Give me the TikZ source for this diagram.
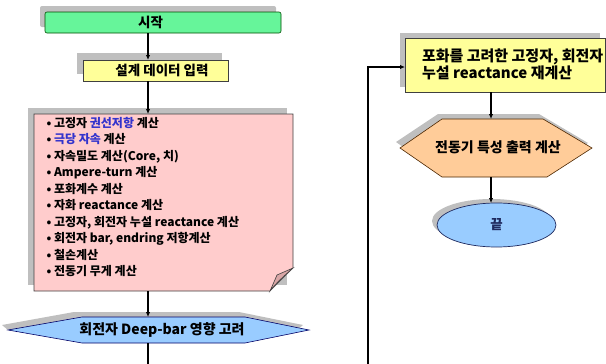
\documentclass[tikz,border=0pt]{standalone}
\usepackage{fontspec}
\setmainfont{Noto Sans CJK KR}
\usetikzlibrary{arrows.meta,shapes.geometric,shapes.misc}
\definecolor{shc}{HTML}{BFBFBF}
\definecolor{greenc}{HTML}{66F59A}
\definecolor{yellowc}{HTML}{FFFF99}
\definecolor{pinkc}{HTML}{FFCCCC}
\definecolor{foldc}{HTML}{D9A6A6}
\definecolor{bluec}{HTML}{99CCFF}
\definecolor{orangec}{HTML}{FFCC99}
\definecolor{txtblue}{HTML}{3333CC}
\definecolor{navy}{HTML}{1F2A5F}
\tikzset{
  shadowfill/.style={fill=shc},
  outline/.style={draw=black!75,line width=0.6pt},
  conn/.style={line width=1.1pt,-{Latex[length=5pt,width=4.5pt]}},
  plainconn/.style={line width=1.1pt},
  lbl/.style={font=\bfseries\fontsize{13.5}{15}\selectfont,inner sep=0pt},
  box/.style={inner sep=0pt,outer sep=0pt}
}
\begin{document}
\begin{tikzpicture}[x=1pt,y=-1pt]
\useasboundingbox (0,0) rectangle (606,364);
\coordinate (axis) at (148,0);
\coordinate (raxis) at (491,0);
% start
\fill[shadowfill,rounded corners=2pt] (40,6) rectangle (276,27);
\node[box,draw=black!70!green,line width=0.6pt,fill=greenc,rounded corners=2pt,minimum width=236pt,minimum height=21pt] (start) at (163,22.5) {};
\node[lbl] (starttext) at (150.5,22.5) {시작};
% input
\fill[shadowfill] (77,53) rectangle (222,74);
\node[box,chamfered rectangle,chamfered rectangle corners=north west,chamfered rectangle xsep=3pt,chamfered rectangle ysep=3pt,outline,fill=yellowc,minimum width=145pt,minimum height=21pt] (input) at (155.5,70.5) {};
\node[lbl] (inputtext) at (162,70.5) {설계 데이터 입력};
% calc box
\fill[shadowfill] (28,108) rectangle (287,285);
\node[box,minimum width=259pt,minimum height=177pt] (calc) at (163.5,202.5) {};
\filldraw[outline,fill=pinkc] (calc.north west) -- (calc.north east) -- ([yshift=23pt]calc.south east) -- ([xshift=-23pt]calc.south east) -- (calc.south west) -- cycle;
\filldraw[outline,fill=foldc] ([xshift=-23pt]calc.south east) .. controls (274,282) .. (277,275) -- ([yshift=23pt]calc.south east) .. controls (284,276) and (276,283) .. cycle;
\node[box,anchor=north west,align=left,font=\bfseries\fontsize{12}{16.5}\selectfont] (calctext) at (46.5,117) {%
• 고정자 \textcolor{txtblue}{권선저항} 계산\\
• \textcolor{txtblue}{극당 자속} 계산\\
• 자속밀도 계산(Core, 치)\\
• Ampere-turn 계산\\
• 포화계수 계산\\
• 자화 reactance 계산\\
• 고정자, 회전자 누설 reactance 계산\\
• 회전자 bar, endring 저항계산\\
• 철손계산\\
• 전동기 무게 계산};
% deep-bar hexagon
\fill[shadowfill] (2,325) -- (74,312) -- (239,312) -- (303,325) -- (297,330) -- (8,330) -- cycle;
\node[box,minimum width=163pt,minimum height=26pt] (deep) at (163.5,330) {};
\filldraw[draw=black!60!blue,line width=0.6pt,fill=bluec] (8,330) -- (deep.north west) -- (deep.north east) -- (309,330) -- (deep.south east) -- (deep.south west) -- cycle;
\node[lbl,font=\bfseries\fontsize{14}{16}\selectfont] (deeptext) at (162,330) {회전자 Deep-bar 영향 고려};
\coordinate (bottom) at (148,364);
% right side
\fill[shadowfill] (400,33) rectangle (600,87);
\node[box,outline,fill=yellowc,minimum width=200pt,minimum height=54pt] (sat) at (505,65) {};
\node[box,anchor=west,align=left,font=\bfseries\fontsize{15}{17}\selectfont] (sattext) at (422,64) {포화를 고려한 고정자, 회전자\\누설 reactance 재계산};
\coordinate (rb) at (368,364);
% output hexagon
\fill[shadowfill] (396,142) -- (438,114) -- (539,114) -- (588,143) -- (543,172) -- (438,172) -- cycle;
\node[box,minimum width=105pt,minimum height=58pt] (outp) at (494.5,148) {};
\filldraw[draw=black!70!orange,line width=0.6pt,fill=orangec] (400,148) -- (442,119) -- (543,119) -- (592,148) -- (547,177) -- (442,177) -- cycle;
\node[lbl,font=\bfseries\fontsize{14}{15}\selectfont] (outptext) at (498,147) {전동기 특성 출력 계산};
% end ellipse
\fill[shadowfill] (491.5,221) ellipse [x radius=59.5pt,y radius=22pt];
\node[box,ellipse,draw=navy,line width=0.7pt,fill=bluec,minimum width=119pt,minimum height=44pt,text=navy,lbl] (endn) at (496.5,225) {끝};
% connectors
\draw[conn] (start.south -| axis) -- (input.north -| axis);
\draw[conn] (input.south -| axis) -- (calc.north -| axis);
\draw[conn] (calc.south -| axis) -- (deep.north -| axis);
\draw[plainconn] (deep.south -| axis) -- (bottom);
\draw[conn,line width=1.6pt] (rb) |- ([yshift=-2pt]sat.west);
\draw[conn] (sat.south -| raxis) -- (outp.north -| raxis);
\draw[conn] (outp.south -| raxis) -- (endn.north -| raxis);
\end{tikzpicture}
\end{document}
